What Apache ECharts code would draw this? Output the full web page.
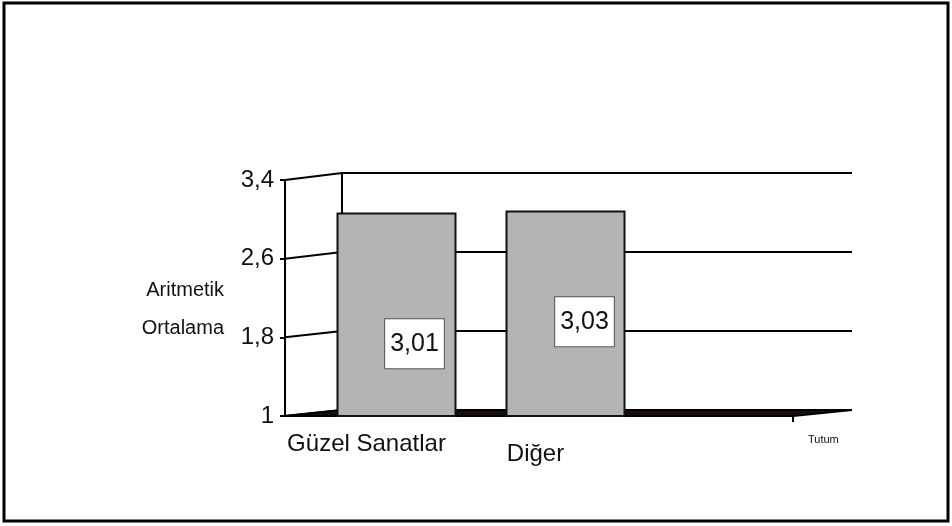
<!DOCTYPE html>
<html lang="tr">
<head>
<meta charset="UTF-8">
<title>Tutum</title>
<script src="https://cdn.jsdelivr.net/npm/echarts@6/dist/echarts.min.js"></script>
<style>
    html, body { margin: 0; padding: 0; background: #fff; }
    #main { width: 952px; height: 526px; }
</style>
</head>
<body>
<div id="main"></div>
<script>
    // veriler
    var categories = ['Güzel Sanatlar', 'Diğer'];
    var values = [3.01, 3.03];
    var ticks = [1, 1.8, 2.6, 3.4];
    var yNameLines = ['Aritmetik', 'Ortalama'];
    var xName = 'Tutum';

    var font = 'Liberation Sans, Arial, sans-serif';
    var FRONT_X = 285, BACK_X = 342, BACK_RIGHT = 852, FRONT_RIGHT = 793;
    var BACK_TOP = 173, BACK_BOTTOM = 410, FRONT_TOP = 180, FRONT_BOTTOM = 416;

    function comma(v) { return String(v).replace('.', ','); }

    var chart = echarts.init(document.getElementById('main'));

    var option = {
        animation: false,
        backgroundColor: '#fff',
        grid: [
            // arka duvar
            {left: BACK_X, right: 952 - BACK_RIGHT, top: BACK_TOP, bottom: 526 - BACK_BOTTOM},
            // ön eksen
            {left: FRONT_X, right: 952 - FRONT_RIGHT, top: FRONT_TOP, bottom: 526 - FRONT_BOTTOM},
            // çubuklar
            {left: 312, right: 952 - 650, top: 173, bottom: 526 - FRONT_BOTTOM}
        ],
        xAxis: [
            {gridIndex: 0, type: 'category', data: categories, axisLine: {show: false},
                axisTick: {show: false}, axisLabel: {show: false}},
            {gridIndex: 1, type: 'category', data: categories, axisLine: {show: false},
                axisTick: {show: false}, axisLabel: {show: false},
                name: xName, nameLocation: 'end', nameGap: 15,
                nameTextStyle: {fontFamily: font, fontSize: 11, color: '#111',
                    verticalAlign: 'top', padding: [18, 0, 0, 0]}},
            {gridIndex: 2, type: 'category', data: categories, axisLine: {show: false},
                axisTick: {show: false},
                axisLabel: {
                    interval: 0, hideOverlap: false,
                    margin: 23, fontFamily: font, fontSize: 24, color: '#111', lineHeight: 10,
                    padding: [0, 60, 0, 0],
                    formatter: function (v, i) { return i === 1 ? '\n' + v : v; }
                }}
        ],
        yAxis: [
            {gridIndex: 0, type: 'value', min: 1, max: 3.4, interval: 0.8,
                axisLine: {show: true, lineStyle: {color: '#000', width: 2}},
                axisTick: {show: false}, axisLabel: {show: false},
                splitLine: {show: true, lineStyle: {color: '#000', width: 2}}},
            {gridIndex: 1, type: 'value', min: 1, max: 3.4, interval: 0.8,
                axisLine: {show: true, lineStyle: {color: '#000', width: 2}},
                axisTick: {show: true, length: 5, lineStyle: {color: '#000', width: 2}},
                axisLabel: {margin: 11, fontFamily: font, fontSize: 24, color: '#111', formatter: comma},
                splitLine: {show: false},
                name: '{g| }\n' + yNameLines.map(function (s) { return '{a|' + s + '}'; }).join('\n'),
                nameLocation: 'middle', nameRotate: 0, nameGap: 61,
                nameTextStyle: {align: 'right',
                    rich: {
                        g: {lineHeight: 22, fontSize: 10},
                        a: {fontFamily: font, fontSize: 20, color: '#111', lineHeight: 38, align: 'right'}
                    }}},
            {gridIndex: 2, type: 'value', min: 1, max: 3.4, show: false}
        ],
        series: [{
            type: 'bar',
            xAxisIndex: 2,
            yAxisIndex: 2,
            barWidth: 120,
            z: 5,
            itemStyle: {color: '#b4b4b4', borderColor: '#111', borderWidth: 2},
            data: values.map(function (v, i) {
                return {value: v, label: {offset: i === 0 ? [18, 29] : [19, 8]}};
            }),
            label: {
                show: true, position: 'inside',
                fontFamily: font, fontSize: 25, color: '#111',
                backgroundColor: '#fff', borderColor: '#555', borderWidth: 1,
                padding: [12, 5, 12, 5],
                formatter: function (p) { return comma(p.value); }
            }
        }]
    };
    chart.setOption(option);

    // perspektif bağlantı çizgileri ve zemin
    var graphics = [];
    ticks.forEach(function (t) {
        var yf = chart.convertToPixel({yAxisIndex: 1}, t);
        var yb = chart.convertToPixel({yAxisIndex: 0}, t);
        graphics.push({type: 'line', z: 1,
            shape: {x1: FRONT_X, y1: yf, x2: BACK_X, y2: yb},
            style: {stroke: '#000', lineWidth: 2}});
    });
    var yf0 = chart.convertToPixel({yAxisIndex: 1}, 1);
    var yb0 = chart.convertToPixel({yAxisIndex: 0}, 1);
    graphics.push({type: 'polygon', z: 1,
        shape: {points: [[FRONT_X, yf0], [BACK_X, yb0], [BACK_RIGHT, yb0], [FRONT_RIGHT, yf0]]},
        style: {fill: '#1a0d0d', stroke: '#000', lineWidth: 2}});
    graphics.push({type: 'line', z: 1,
        shape: {x1: FRONT_RIGHT, y1: yf0, x2: FRONT_RIGHT, y2: yf0 + 6},
        style: {stroke: '#000', lineWidth: 2}});
    // çerçeve
    graphics.push({type: 'rect', z: 10,
        shape: {x: 4, y: 3, width: 944, height: 518},
        style: {fill: 'none', stroke: '#000', lineWidth: 3}});
    chart.setOption({graphic: graphics});
</script>
</body>
</html>
